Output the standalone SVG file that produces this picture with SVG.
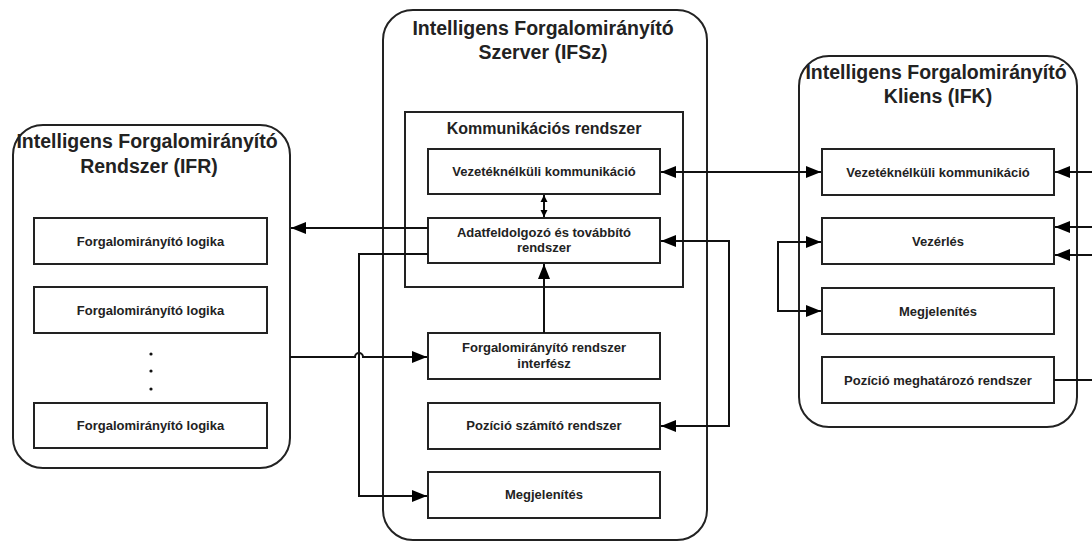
<svg xmlns="http://www.w3.org/2000/svg" width="1092" height="543" viewBox="0 0 1092 543">
<defs>
<marker id="ah" markerUnits="userSpaceOnUse" markerWidth="16" markerHeight="13" refX="15" refY="6" orient="auto-start-reverse" overflow="visible">
<path d="M0,0 L15,6 L0,12 z" fill="#000"/>
</marker>
<marker id="ahs" markerUnits="userSpaceOnUse" markerWidth="8" markerHeight="8" refX="7" refY="3.5" orient="auto-start-reverse" overflow="visible">
<path d="M0,0 L7,3.5 L0,7 z" fill="#000"/>
</marker>
<style>
.cont{fill:#fff;stroke:#222;stroke-width:2}
.box{fill:#fff;stroke:#222;stroke-width:2}
.t{font-family:"Liberation Sans",Arial,sans-serif;font-weight:bold;fill:#222;text-anchor:middle}
.ct{font-size:19.5px}
.bt{font-size:13px}
.kt{font-size:16px}
.ln{fill:none;stroke:#111;stroke-width:2}
.a{marker-end:url(#ah)}
.ab{marker-start:url(#ah);marker-end:url(#ah)}
</style>
</defs>
<rect width="1092" height="543" fill="#fff"/>

<g id="ifr">
<rect class="cont" x="13" y="125" width="277" height="343" rx="30"/>
<text class="t ct" x="147" y="148">Intelligens Forgalomirányító</text>
<text class="t ct" x="149" y="173">Rendszer (IFR)</text>
</g>
<g id="ifr-logika1"><rect class="box" x="34" y="218" width="233" height="46"/><text class="t bt" x="150.5" y="245.5">Forgalomirányító logika</text></g>
<g id="ifr-logika2"><rect class="box" x="34" y="287" width="233" height="46"/><text class="t bt" x="150.5" y="314.5">Forgalomirányító logika</text></g>
<g id="ifr-dots"><circle cx="151" cy="354" r="1.6" fill="#111"/><circle cx="151" cy="371" r="1.6" fill="#111"/><circle cx="151" cy="389" r="1.6" fill="#111"/></g>
<g id="ifr-logika3"><rect class="box" x="34" y="403" width="233" height="45"/><text class="t bt" x="150.5" y="430">Forgalomirányító logika</text></g>

<g id="ifsz">
<rect class="cont" x="383" y="10" width="324" height="530" rx="30"/>
<text class="t ct" x="543" y="35">Intelligens Forgalomirányító</text>
<text class="t ct" x="543" y="59">Szerver (IFSz)</text>
</g>
<g id="komm">
<rect class="box" x="405" y="112" width="278" height="175"/>
<text class="t kt" x="544" y="134">Kommunikációs rendszer</text>
</g>
<g id="ifsz-vez"><rect class="box" x="428" y="149" width="232" height="45"/><text class="t bt" x="544" y="176">Vezetéknélküli kommunikáció</text></g>
<g id="ifsz-adat"><rect class="box" x="428" y="218" width="232" height="45"/><text class="t bt" x="544" y="237">Adatfeldolgozó és továbbító</text><text class="t bt" x="544" y="252">rendszer</text></g>
<g id="ifsz-interf"><rect class="box" x="428" y="333" width="232" height="46"/><text class="t bt" x="544" y="352">Forgalomirányító rendszer</text><text class="t bt" x="544" y="368">interfész</text></g>
<g id="ifsz-poz"><rect class="box" x="428" y="403" width="232" height="46"/><text class="t bt" x="544" y="430">Pozíció számító rendszer</text></g>
<g id="ifsz-megj"><rect class="box" x="428" y="472" width="232" height="46"/><text class="t bt" x="544" y="499">Megjelenítés</text></g>

<g id="ifk">
<rect class="cont" x="799" y="56" width="278" height="371" rx="30"/>
<text class="t ct" x="936" y="79">Intelligens Forgalomirányító</text>
<text class="t ct" x="938" y="103">Kliens (IFK)</text>
</g>
<g id="ifk-vez"><rect class="box" x="822" y="149" width="232" height="46"/><text class="t bt" x="938" y="176.5">Vezetéknélküli kommunikáció</text></g>
<g id="ifk-vezerles"><rect class="box" x="822" y="218" width="232" height="46"/><text class="t bt" x="938" y="245.5">Vezérlés</text></g>
<g id="ifk-megj"><rect class="box" x="822" y="288" width="232" height="46"/><text class="t bt" x="938" y="315.5">Megjelenítés</text></g>
<g id="ifk-poz"><rect class="box" x="822" y="357" width="232" height="46"/><text class="t bt" x="938" y="384.5">Pozíció meghatározó rendszer</text></g>

<g id="connectors">
<path class="ln" d="M544,195 V217" marker-start="url(#ahs)" marker-end="url(#ahs)"/>
<path class="ln a" d="M428,228 H291"/>
<path class="ln a" d="M428,254 H359 V496 H427"/>
<path class="ln a" d="M290,357 H355 A4,4 0 0 1 363,357 H427"/>
<path class="ln a" d="M544,333 V264"/>
<path class="ln ab" d="M661,172 H821"/>
<path class="ln ab" d="M661,241 H729 V426 H661"/>
<path class="ln ab" d="M821,242 H778 V311 H821"/>
<path class="ln a" d="M1092,172 H1055"/>
<path class="ln a" d="M1092,227 H1055"/>
<path class="ln a" d="M1092,255 H1055"/>
<path class="ln" d="M1054,380 H1092"/>
</g>
</svg>
